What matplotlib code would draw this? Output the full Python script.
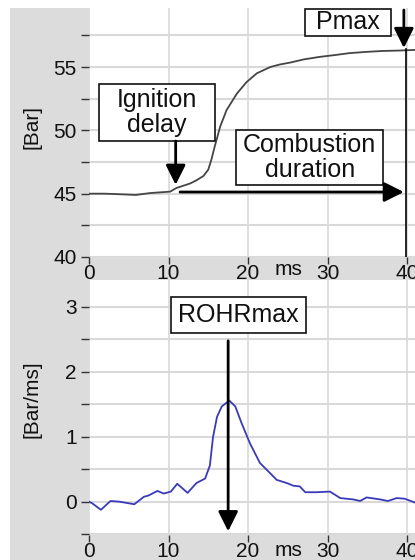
import matplotlib
matplotlib.use("Agg")
import matplotlib.pyplot as plt
from matplotlib.patches import Rectangle

plt.rcParams['font.family'] = ['Liberation Sans', 'DejaVu Sans']

# ---- data ----
p_time = [0, 2, 4, 5.9, 7.7, 10.2, 11, 12.7, 13.5, 14.4, 15.0, 15.4, 15.8, 16.5, 17.3,
          18.6, 19.8, 21.1, 22.8, 24.0, 25.3, 27, 29, 31, 32.8, 35, 37, 39, 41]
p_bar = [45.0, 45.0, 44.95, 44.9, 45.05, 45.16, 45.45, 45.8, 46.05, 46.4, 46.9,
         47.7, 48.7, 50.3, 51.6, 52.9, 53.8, 54.5, 55.0, 55.2, 55.35, 55.6, 55.8,
         55.95, 56.1, 56.2, 56.27, 56.3, 56.35]

r_time = [0, 0.4, 1.5, 2.7, 3.8, 5.7, 6.9, 7.5, 8.6, 9.4, 10.3, 11.1, 12.4, 13.5,
          13.8, 14.6, 15.2, 15.6, 16.1, 16.7, 17.65, 18.4, 19.2, 20.25, 21.5,
          22.8, 23.6, 24.9, 25.7, 26.5, 27.2, 28.6, 30.3, 31.6, 33.2, 34.1,
          34.9, 36.6, 37.6, 38.7, 39.7, 40.8, 41]
r_val = [0.005, -0.02, -0.12, 0.015, 0.005, -0.035, 0.08, 0.1, 0.17, 0.13, 0.16,
         0.28, 0.14, 0.29, 0.31, 0.36, 0.56, 1.0, 1.31, 1.47, 1.56, 1.47, 1.21,
         0.9, 0.6, 0.44, 0.34, 0.29, 0.25, 0.24, 0.15, 0.15, 0.16, 0.06, 0.04,
         0.015, 0.07, 0.04, 0.015, 0.06, 0.05, 0.0, -0.01]

x_ticks = [0, 10, 20, 30, 40]
top_major = [40, 45, 50, 55]
top_minor = [42.5, 47.5, 52.5, 57.5]
bot_major = [0, 1, 2, 3]
bot_minor = [-0.5, 0.5, 1.5, 2.5]

W, H = 415, 560
fig = plt.figure(figsize=(W / 100, H / 100), dpi=100, facecolor='white')
GRAY = '#dcdcdc'
TXT = '#111111'
fig.patches.append(Rectangle((10 / W, 0), 1, (H - 8) / H, transform=fig.transFigure,
                             facecolor=GRAY, edgecolor='none', zorder=-10))


def fx(px):
    return px / W


def fy(py):
    return 1 - py / H


ax1 = fig.add_axes([fx(89), fy(257), 1 - fx(89), fy(8) - fy(257)])
ax2 = fig.add_axes([fx(89), fy(535), 1 - fx(89), fy(280) - fy(535)])

for ax in (ax1, ax2):
    ax.set_facecolor('white')
    for s in ax.spines.values():
        s.set_visible(False)
    ax.set_xlim(0, 41)
    ax.set_xticks(x_ticks)
    ax.set_xticklabels([str(t) for t in x_ticks])
    ax.tick_params(axis='x', length=5, width=1, color='#333333', pad=0,
                   labelsize=15, labelcolor=TXT)
    ax.tick_params(axis='y', which='both', length=6, width=1, color='#333333',
                   pad=3, labelsize=15, labelcolor=TXT)
    ax.grid(True, which='both', axis='y', color='#d9d9d9', lw=1.5, zorder=0)
    ax.grid(True, which='major', axis='x', color='#d9d9d9', lw=1.2, zorder=0)
    ax.set_axisbelow(True)

ax1.set_ylim(40, 59.66)
ax1.set_yticks(top_major)
ax1.set_yticks(top_minor, minor=True)
ax1.plot(p_time, p_bar, color='#454545', lw=1.3, zorder=3)

ax2.set_ylim(-0.508, 3.415)
ax2.set_yticks(bot_major)
ax2.set_yticks(bot_minor, minor=True)
ax2.plot(r_time, r_val, color='#3a3ab8', lw=1.3, zorder=3)

fig.text(fx(289), fy(269), 'ms', ha='center', va='center', fontsize=15, color=TXT)
fig.text(fx(289), fy(550), 'ms', ha='center', va='center', fontsize=15, color=TXT)
fig.text(fx(32), fy(127), '[Bar]', rotation=90, ha='center', va='center', fontsize=15,
         color=TXT)
fig.text(fx(32), fy(399), '[Bar/ms]', rotation=90, ha='center', va='center', fontsize=15,
         color=TXT)


def box(ax, x0, x1, y0, y1, text):
    ax.add_patch(Rectangle((x0, y0), x1 - x0, y1 - y0, facecolor='white',
                           edgecolor='#111111', lw=1.2, zorder=5, clip_on=False))
    ax.text((x0 + x1) / 2, (y0 + y1) / 2, text, ha='center', va='center',
            fontsize=18, color=TXT, zorder=6, linespacing=1.1)


def arrow(ax, xy_from, xy_to):
    ax.annotate('', xy=xy_to, xytext=xy_from, zorder=7, annotation_clip=False,
                arrowprops=dict(arrowstyle='-|>,head_length=0.6,head_width=0.3',
                                mutation_scale=20, lw=2, color='black',
                                shrinkA=0, shrinkB=0))


box(ax1, 1.26, 15.85, 49.16, 53.66, 'Ignition\ndelay')
arrow(ax1, (10.9, 49.16), (10.9, 45.7))
box(ax1, 27.2, 38.0, 57.45, 59.6, 'Pmax')
arrow(ax1, (39.6, 59.5), (39.6, 56.5))
ax1.plot([39.85, 39.85], [56.4, 40], color='black', lw=1.2, zorder=4)
box(ax1, 18.5, 37.0, 45.68, 50.03, 'Combustion\nduration')
arrow(ax1, (11.45, 45.13), (39.6, 45.13))

box(ax2, 10.3, 27.3, 2.6, 3.15, 'ROHRmax')
arrow(ax2, (17.5, 2.48), (17.5, -0.45))

fig.savefig('out.png', dpi=100, facecolor='white')
